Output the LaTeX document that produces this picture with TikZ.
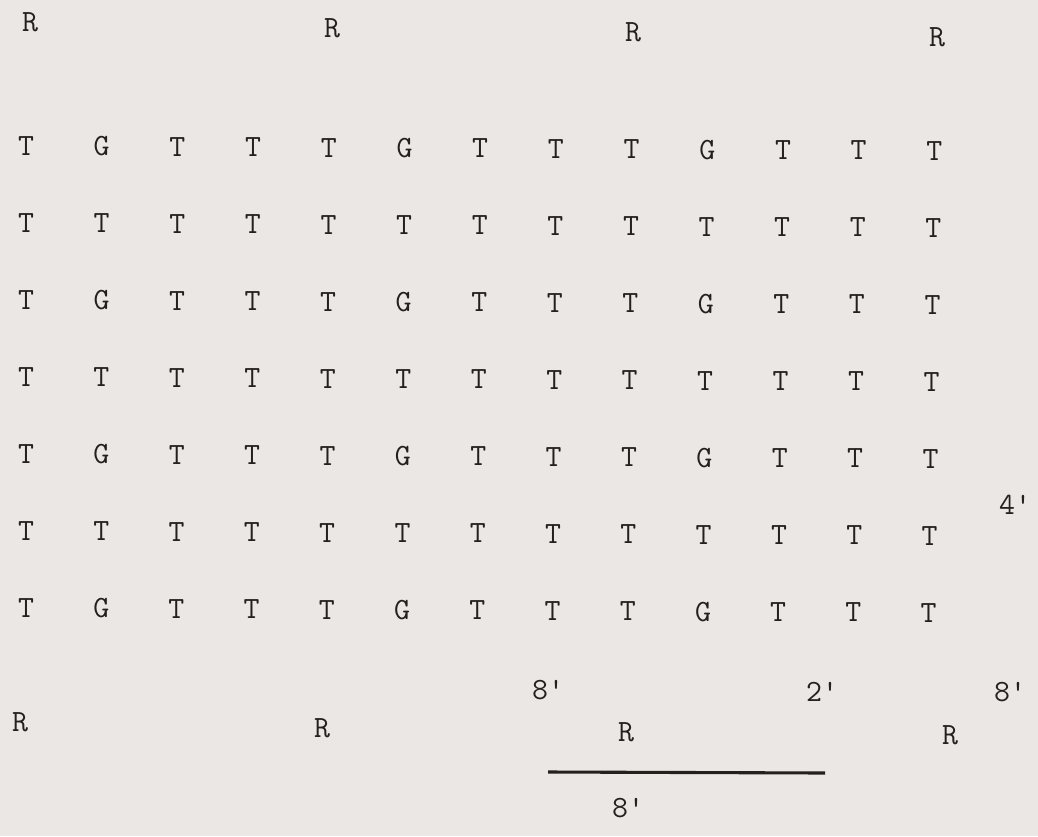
\documentclass[tikz,border=0pt]{standalone}
\usepackage{xcolor}
\definecolor{paper}{RGB}{234,231,229}
\definecolor{ink}{RGB}{35,32,30}

\tikzset{
  typed/.style={text=ink, font=\ttfamily\fontsize{22}{26}\selectfont, inner sep=0pt},
  tree/.style={typed},
  rock/.style={typed}
}

\begin{document}
\begin{tikzpicture}[x=0.025cm, y=-0.025cm]
            \fill[paper] (0,0) rectangle (1038,836);
            \useasboundingbox (0,0) rectangle (1038,836);

            % Top row of R
            \node[rock] (rt1) at (30,22) {R};
            \node[rock] (rt2) at (332,28) {R};
            \node[rock] (rt3) at (633,32) {R};
            \node[rock] (rt4) at (937,37) {R};

            % Grid of T and G
            \foreach \r in {0,...,6}
              \foreach \c in {0,...,12}{
                \pgfmathsetmacro{\px}{26 + \c*(75.7 - 0.08*\r)}
                \pgfmathsetmacro{\py}{146 + \r*77 + 0.4*\c}
                \pgfmathtruncatemacro{\isg}{(mod(\r,2)==0 && mod(\c,4)==1)}
                \node[tree] (t-\r-\c) at (\px,\py) {\ifnum\isg=1 G\else T\fi};
              }

            % Bottom row of R
            \node[rock] (rb1) at (20,722) {R};
            \node[rock] (rb2) at (322,728) {R};
            \node[rock] (rb3) at (626,732) {R};
            \node[rock] (rb4) at (950,735) {R};

            % Spacings
            \node[typed] (d4) at (1015,505) {4'};
            \node[typed] (d8a) at (548,690) {8'};
            \node[typed] (d2) at (822,692) {2'};
            \node[typed] (d8b) at (1010,692) {8'};

            % Scale bar
            \coordinate (barL) at (548,772);
            \coordinate (barR) at (825,773);
            \draw[ink, line width=2.2pt] (barL) -- (barR);
            \node[typed] (d8c) at (628,808) {8'};
        \end{tikzpicture}
\end{document}
